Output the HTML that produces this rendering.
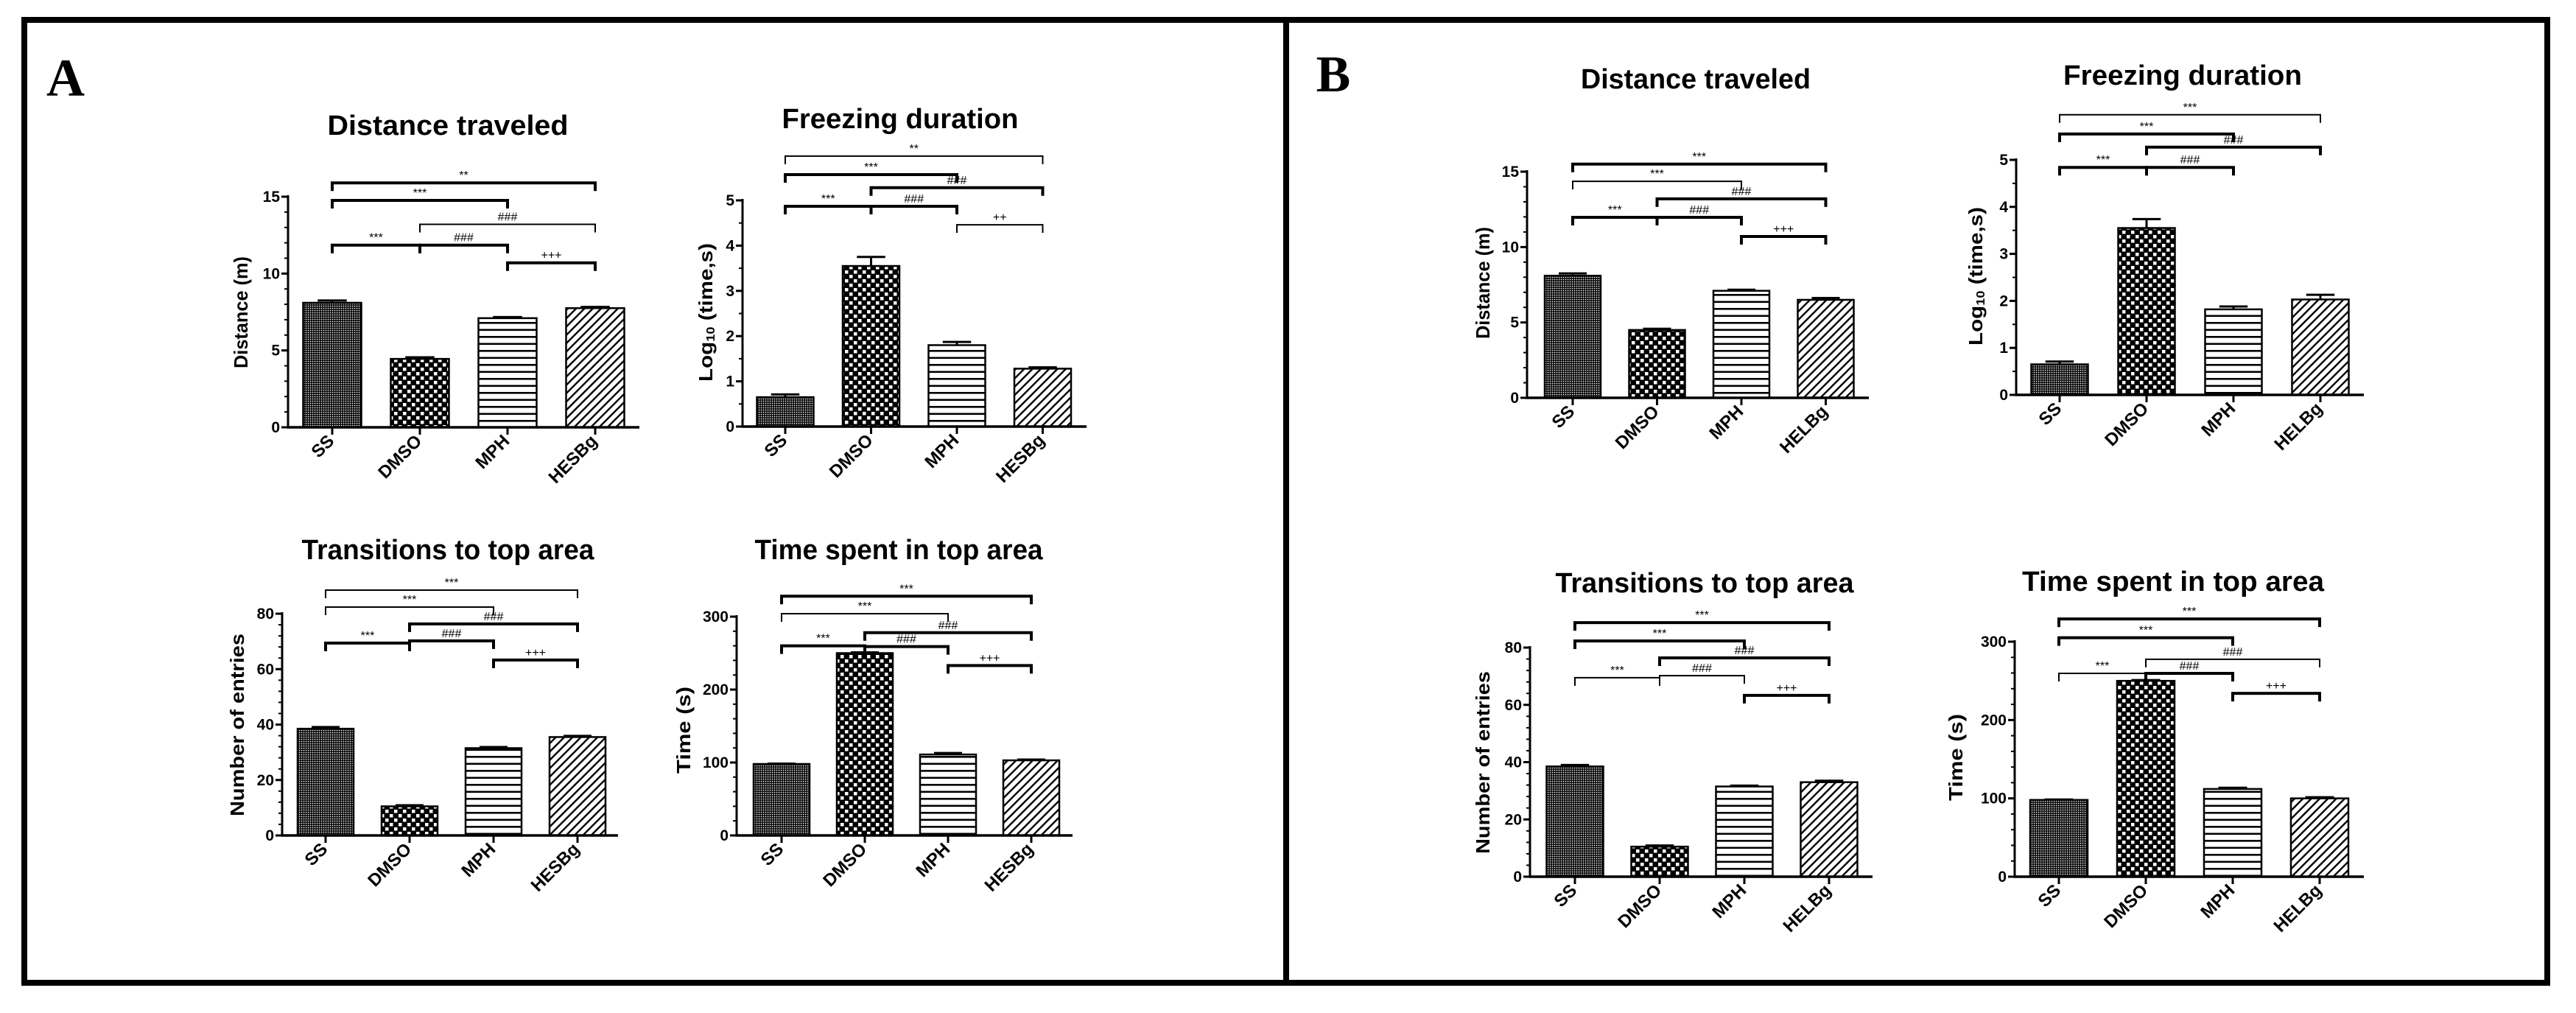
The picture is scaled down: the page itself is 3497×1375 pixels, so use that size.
<!DOCTYPE html>
<html><head><meta charset="utf-8"><title>Behavioural tests – panels A and B</title>
<style>html,body{margin:0;padding:0;background:#fff}svg{display:block}</style></head>
<body>
<svg id="fig" xmlns="http://www.w3.org/2000/svg" width="3497" height="1375" viewBox="0 0 3497 1375">
<defs>
<pattern id="pSS" width="3" height="3" patternUnits="userSpaceOnUse"><rect width="3" height="3" fill="#000"/><rect x="0.8" y="0.8" width="1.5" height="1.5" fill="#fff"/></pattern>
<pattern id="pDMSO" width="12" height="12" patternUnits="userSpaceOnUse"><rect width="12" height="12" fill="#000"/><rect x="1" y="1" width="4.5" height="4.5" fill="#fff"/><rect x="7" y="7" width="4.5" height="4.5" fill="#fff"/></pattern>
<pattern id="pMPH" width="10" height="9.5" patternUnits="userSpaceOnUse"><rect width="10" height="9.5" fill="#fff"/><rect y="0" width="10" height="2.6" fill="#000"/></pattern>
<pattern id="pHES" width="8" height="8" patternUnits="userSpaceOnUse" patternTransform="rotate(45)"><rect width="8" height="8" fill="#fff"/><rect width="2.4" height="8" fill="#000"/></pattern>
</defs>
<rect x="0" y="0" width="3497" height="1375" fill="#fff"/>
<rect x="33" y="27" width="1713" height="1307" fill="none" stroke="#000" stroke-width="8"/>
<rect x="1746" y="27" width="1712" height="1307" fill="none" stroke="#000" stroke-width="8"/>
<text x="89" y="130" font-family="Liberation Serif, serif" font-weight="bold" font-size="72" text-anchor="middle">A</text>
<text x="1810" y="124" font-family="Liberation Serif, serif" font-weight="bold" font-size="70" text-anchor="middle">B</text>
<g id="charts"></g>
</svg>
<script>
// ---- data ----
const catsA = ["SS","DMSO","MPH","HESBg"];
const catsB = ["SS","DMSO","MPH","HELBg"];
const distA = [8.1, 4.45, 7.1, 7.75];
const distAErr = [0.15, 0.1, 0.07, 0.08];
const freezeA = [0.65, 3.55, 1.8, 1.28];
const freezeAErr = [0.06, 0.2, 0.07, 0.03];
const transA = [38.5, 10.5, 31.5, 35.5];
const transAErr = [0.6, 0.4, 0.4, 0.4];
const timeA = [98, 250, 111, 103];
const timeAErr = [0.5, 1, 2, 1];
const distB = [8.1, 4.5, 7.1, 6.5];
const distBErr = [0.15, 0.08, 0.07, 0.12];
const freezeB = [0.65, 3.55, 1.82, 2.03];
const freezeBErr = [0.06, 0.19, 0.06, 0.1];
const transB = [38.5, 10.5, 31.5, 33];
const transBErr = [0.5, 0.4, 0.3, 0.5];
const timeB = [98, 250, 112, 100];
const timeBErr = [0.5, 1, 1.5, 1.5];
const ticksDist = [0, 5, 10, 15];
const ticksLog = [0, 1, 2, 3, 4, 5];
const ticksTrans = [0, 20, 40, 60, 80];
const ticksTime = [0, 100, 200, 300];
// brackets: [from, to, value, label, thick]
const sigDistA = [[0,3,15.9,"**",1],[0,2,14.76,"***",1],[1,3,13.2,"###",0],[0,1,11.85,"***",1],[1,2,11.85,"###",1],[2,3,10.7,"+++",1]];
const sigFreezeA = [[0,3,5.98,"**",0],[0,2,5.57,"***",1],[1,3,5.28,"###",1],[0,1,4.87,"***",1],[1,2,4.87,"###",1],[2,3,4.46,"++",0]];
const sigTransA = [[0,3,88.5,"***",0],[0,2,82.4,"***",0],[1,3,76.3,"###",1],[0,1,69.4,"***",1],[1,2,70.2,"###",1],[2,3,63.3,"+++",1]];
const sigTimeA = [[0,3,328,"***",1],[0,2,304,"***",0],[1,3,278,"###",1],[0,1,260,"***",1],[1,2,259,"###",1],[2,3,233,"+++",1]];
const sigDistB = [[0,3,15.5,"***",1],[0,2,14.36,"***",0],[1,3,13.2,"###",1],[0,1,11.97,"***",1],[1,2,11.97,"###",1],[2,3,10.7,"+++",1]];
const sigFreezeB = [[0,3,5.96,"***",0],[0,2,5.55,"***",1],[1,3,5.27,"###",1],[0,1,4.84,"***",1],[1,2,4.84,"###",1]];
const sigTransB = [[0,3,88.7,"***",1],[0,2,82.3,"***",1],[1,3,76.4,"###",1],[0,1,69.5,"***",0],[1,2,70.2,"###",0],[2,3,63.3,"+++",1]];
const sigTimeB = [[0,3,329,"***",1],[0,2,305,"***",1],[1,3,277.5,"###",0],[0,1,259.6,"***",0],[1,2,259.6,"###",1],[2,3,234,"+++",1]];

const fills = ["url(#pSS)","url(#pDMSO)","url(#pMPH)","url(#pHES)"];
const NS = "http://www.w3.org/2000/svg";
const root = document.getElementById("charts");
function mk(tag, attrs, parent){ const e=document.createElementNS(NS,tag); for(const k in attrs) e.setAttribute(k,attrs[k]); (parent||root).appendChild(e); return e; }

const charts = [
 {id:"a-distance", cats:catsA, vals:distA, errs:distAErr, ticks:ticksDist, minor:1, sig:sigDistA, ax:391, y0:580, yTop:267, xEnd:868, c0:451, pitch:119, bw:79, title:"Distance traveled", tx:608, ty:183, tw:327, yl:"Distance (m)", ylx:329, yly:424, yll:152},
 {id:"a-freezing", cats:catsA, vals:freezeA, errs:freezeAErr, ticks:ticksLog, minor:0.5, sig:sigFreezeA, ax:1008, y0:579, yTop:272, xEnd:1475, c0:1066, pitch:116.5, bw:77, title:"Freezing duration", tx:1222, ty:174, tw:321, yl:"LOG", ylx:960, yly:424, yll:188},
 {id:"a-transitions", cats:catsA, vals:transA, errs:transAErr, ticks:ticksTrans, minor:4, sig:sigTransA, ax:383, y0:1134, yTop:833, xEnd:839, c0:442, pitch:114, bw:76, title:"Transitions to top area", tx:608, ty:759, tw:397, yl:"Number of entries", ylx:324, yly:984, yll:248},
 {id:"a-time", cats:catsA, vals:timeA, errs:timeAErr, ticks:ticksTime, minor:20, sig:sigTimeA, ax:1000, y0:1134, yTop:837, xEnd:1456, c0:1061, pitch:113, bw:76, title:"Time spent in top area", tx:1220, ty:759, tw:391, yl:"Time (s)", ylx:930, yly:991, yll:118},
 {id:"b-distance", cats:catsB, vals:distB, errs:distBErr, ticks:ticksDist, minor:1, sig:sigDistB, ax:2073, y0:540, yTop:233, xEnd:2537, c0:2135, pitch:114.5, bw:76, title:"Distance traveled", tx:2302, ty:120, tw:312, yl:"Distance (m)", ylx:2015, yly:384, yll:152},
 {id:"b-freezing", cats:catsB, vals:freezeB, errs:freezeBErr, ticks:ticksLog, minor:0.5, sig:sigFreezeB, ax:2737, y0:536, yTop:217, xEnd:3209, c0:2796, pitch:118, bw:77, title:"Freezing duration", tx:2963, ty:115, tw:324, yl:"LOG", ylx:2684, yly:375, yll:188},
 {id:"b-transitions", cats:catsB, vals:transB, errs:transBErr, ticks:ticksTrans, minor:4, sig:sigTransB, ax:2077, y0:1190, yTop:879, xEnd:2542, c0:2138, pitch:115, bw:77, title:"Transitions to top area", tx:2314, ty:804, tw:405, yl:"Number of entries", ylx:2015, yly:1035, yll:248},
 {id:"b-time", cats:catsB, vals:timeB, errs:timeBErr, ticks:ticksTime, minor:20, sig:sigTimeB, ax:2735, y0:1190, yTop:871, xEnd:3209, c0:2795, pitch:118, bw:78, title:"Time spent in top area", tx:2950, ty:802, tw:410, yl:"Time (s)", ylx:2657, yly:1028, yll:118}
];

charts.forEach(c => {
  const g = mk("g", {});
  
  
  const max = c.ticks[c.ticks.length-1];
  const y = v => c.y0 - (v/max)*(c.y0-c.yTop);
  const x = i => c.c0 + i*c.pitch;
  // title
  const t = mk("text", {x:c.tx, y:c.ty, "text-anchor":"middle", "font-family":"Liberation Sans Narrow, Liberation Sans, sans-serif", "font-weight":"bold", "font-size":38, textLength:c.tw, lengthAdjust:"spacingAndGlyphs"}, g);
  t.textContent = c.title;
  
  
  // y label
  const yl = mk("text", {x:c.ylx, y:c.yly, transform:`rotate(-90 ${c.ylx} ${c.yly})`, "text-anchor":"middle", "dominant-baseline":"middle", "font-family":"Liberation Sans, sans-serif", "font-weight":"bold", "font-size":26, textLength:c.yll, lengthAdjust:"spacingAndGlyphs"}, g);
  if (c.yl === "LOG") {
    yl.appendChild(document.createTextNode("Log"));
    const sub = mk("tspan", {"font-size":16, dy:6}, yl); sub.textContent = "10";
    const rest = mk("tspan", {dy:-6}, yl); rest.textContent = " (time,s)";
  } else yl.textContent = c.yl;
  
  
  // bars + errors
  c.vals.forEach((v,i) => {
    const b = mk("rect", {x:x(i)-c.bw/2, y:y(v), width:c.bw, height:c.y0-y(v), fill:fills[i], stroke:"#000", "stroke-width":2.5}, g);
    
    
    const e = mk("path", {d:`M${x(i)} ${y(v)} V${y(v+c.errs[i])} M${x(i)-c.bw/4} ${y(v+c.errs[i])} H${x(i)+c.bw/4}`, stroke:"#000", "stroke-width":3, fill:"none"}, g);
    
    
  });
  // axes
  const ya = mk("line", {x1:c.ax, x2:c.ax, y1:c.yTop-2, y2:c.y0+1.5, stroke:"#000", "stroke-width":3}, g);
  
  
  const xa = mk("line", {x1:c.ax-1.5, x2:c.xEnd, y1:c.y0, y2:c.y0, stroke:"#000", "stroke-width":3.5}, g);
  
  
  for (let m = 0; m <= max + 1e-9; m += c.minor) {
    mk("line", {x1:c.ax-5, x2:c.ax, y1:y(m), y2:y(m), stroke:"#000", "stroke-width":2}, g);
  }
  c.ticks.forEach(tv => {
    mk("line", {x1:c.ax-9, x2:c.ax, y1:y(tv), y2:y(tv), stroke:"#000", "stroke-width":3}, g);
    const tl = mk("text", {x:c.ax-11, y:y(tv)+7, "text-anchor":"end", "font-family":"Liberation Sans Narrow, Liberation Sans, sans-serif", "font-weight":"bold", "font-size":21}, g);
    tl.textContent = tv;
    
    
  });
  c.cats.forEach((cat,i) => {
    mk("line", {x1:x(i), x2:x(i), y1:c.y0, y2:c.y0+10, stroke:"#000", "stroke-width":3}, g);
    const ax = x(i)+4, ay = c.y0+20;
    const xl = mk("text", {x:ax, y:ay, transform:`rotate(-45 ${ax} ${ay})`, "text-anchor":"end", "font-family":"Liberation Sans, sans-serif", "font-weight":"bold", "font-size":24}, g);
    xl.textContent = cat;
    
    
  });
  // significance brackets
  c.sig.forEach(s => {
    const x1 = x(s[0]), x2 = x(s[1]), yy = y(s[2]);
    const br = mk("path", {d:`M${x1} ${yy+11} V${yy} H${x2} V${yy+11}`, stroke:"#000", "stroke-width":s[4]?4:2, fill:"none"}, g);
    
    
    const sl = mk("text", {x:(x1+x2)/2, y:yy-5, "text-anchor":"middle", "font-family":"Liberation Sans Narrow, Liberation Sans, sans-serif", "font-size":16}, g);
    sl.textContent = s[3];
    
    
  });
});
</script>
</body></html>
